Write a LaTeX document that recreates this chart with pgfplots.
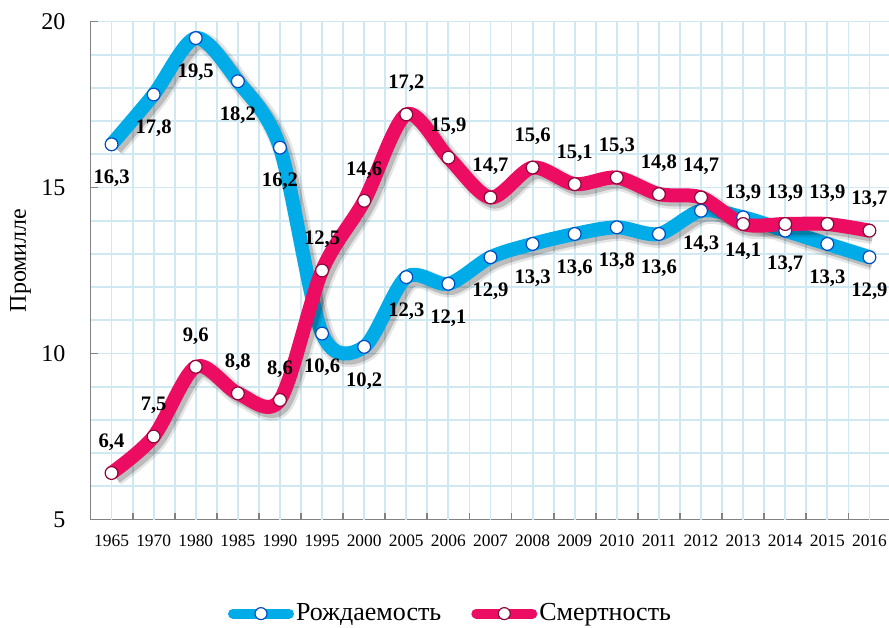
\documentclass[border=0pt]{standalone}
\usepackage{fontspec}
\setmainfont{Liberation Serif}
\usepackage{pgfplots}
\usepackage{pgfplotstable}
\pgfplotsset{compat=1.18}

\definecolor{birth}{RGB}{0,172,232}
\definecolor{death}{RGB}{236,12,98}
\definecolor{gridc}{RGB}{208,232,242}
\definecolor{axc}{RGB}{130,130,130}

% x = category index (1965 ... 2016), b = births, d = deaths (per mille)
\pgfplotstableread{
x  b     d
0  16.3  6.4
1  17.8  7.5
2  19.5  9.6
3  18.2  8.8
4  16.2  8.6
5  10.6  12.5
6  10.2  14.6
7  12.3  17.2
8  12.1  15.9
9  12.9  14.7
10 13.3  15.6
11 13.6  15.1
12 13.8  15.3
13 13.6  14.8
14 14.3  14.7
15 14.1  13.9
16 13.7  13.9
17 13.3  13.9
18 12.9  13.7
}\rates

\begin{document}
\begin{tikzpicture}
\path[use as bounding box] (-45.25pt,-53.75pt) rectangle (399.25pt,259.75pt);
\begin{axis}[
    at={(0,0)}, anchor=south west,
    scale only axis, width=400pt, height=249pt,
    xmin=-0.5, xmax=18.5, ymin=5, ymax=20,
    clip=false,
    axis x line*=bottom, axis y line*=left,
    axis line style={draw=axc, line width=0.9pt},
    tick align=inside, major tick length=3.5pt,
    tick style={draw=axc, line width=0.9pt},
    xtick={-0.5,0.5,...,18.5}, xticklabels={},
    extra x ticks={0,1,...,18},
    extra x tick labels={1965,1970,1980,1985,1990,1995,2000,2005,2006,2007,2008,2009,2010,2011,2012,2013,2014,2015,2016},
    extra x tick style={tick style={draw=none}, grid=major},
    ytick={5,10,15,20}, minor y tick num=4, minor tick length=0pt,
    grid=both,
    major grid style={draw=gridc, line width=0.9pt},
    minor grid style={draw=gridc, line width=0.9pt},
    /pgf/number format/assume math mode=true,
    xticklabel style={font=\fontsize{8.7}{10}\selectfont, yshift=-4pt},
    yticklabel style={font=\fontsize{12}{14}\selectfont, xshift=-9pt},
    ylabel={Промилле},
    ylabel style={font=\fontsize{12}{14}\selectfont, at={(axis description cs:-0.0875,0.52)}, anchor=center, rotate=0},
    legend style={draw=none, fill=none, at={(axis description cs:0.45,-0.189)}, anchor=center,
        font=\fontsize{13}{15}\selectfont, legend columns=2,
        /tikz/every even column/.append style={column sep=14pt},
        nodes={inner sep=1pt}},
    legend image code/.code={
        \draw[#1, line width=5pt, line cap=round, mark=none] (0pt,0pt) -- (28pt,0pt);
        \draw[#1, mark size=3pt] plot coordinates {(14pt,0pt)};
    },
    shadowline/.style={draw=black, opacity=#1, mark=none, smooth, forget plot, xshift=1.8pt, yshift=-1.8pt},
    vallabel/.style={nodes near coords={\pgfmathprintnumber[fixed, fixed zerofill, precision=1, use comma]{\pgfplotspointmeta}},
        point meta=y,
        every node near coord/.append style={font=\fontsize{10.3}{12}\bfseries, text=black, anchor=center, yshift=#1}},
]
    % births
    \addplot[shadowline=0.1, line width=10pt] table[x=x, y=b] {\rates};
    \addplot[shadowline=0.18, line width=7.5pt] table[x=x, y=b] {\rates};
    \addplot[birth, line width=7pt, smooth,
        mark=*, mark size=3.2pt, mark options={fill=white, draw=birth!55!blue!80!black, line width=0.6pt},
        vallabel=-17pt]
        table[x=x, y=b] {\rates};
    \addlegendentry{Рождаемость}
    % deaths
    \addplot[shadowline=0.1, line width=10pt] table[x=x, y=d] {\rates};
    \addplot[shadowline=0.18, line width=7.5pt] table[x=x, y=d] {\rates};
    \addplot[death, line width=7pt, smooth,
        mark=*, mark size=3.2pt, mark options={fill=white, draw=death!60!black, line width=0.6pt},
        vallabel=15.5pt]
        table[x=x, y=d] {\rates};
    \addlegendentry{Смертность}
\end{axis}
\end{tikzpicture}
\end{document}
